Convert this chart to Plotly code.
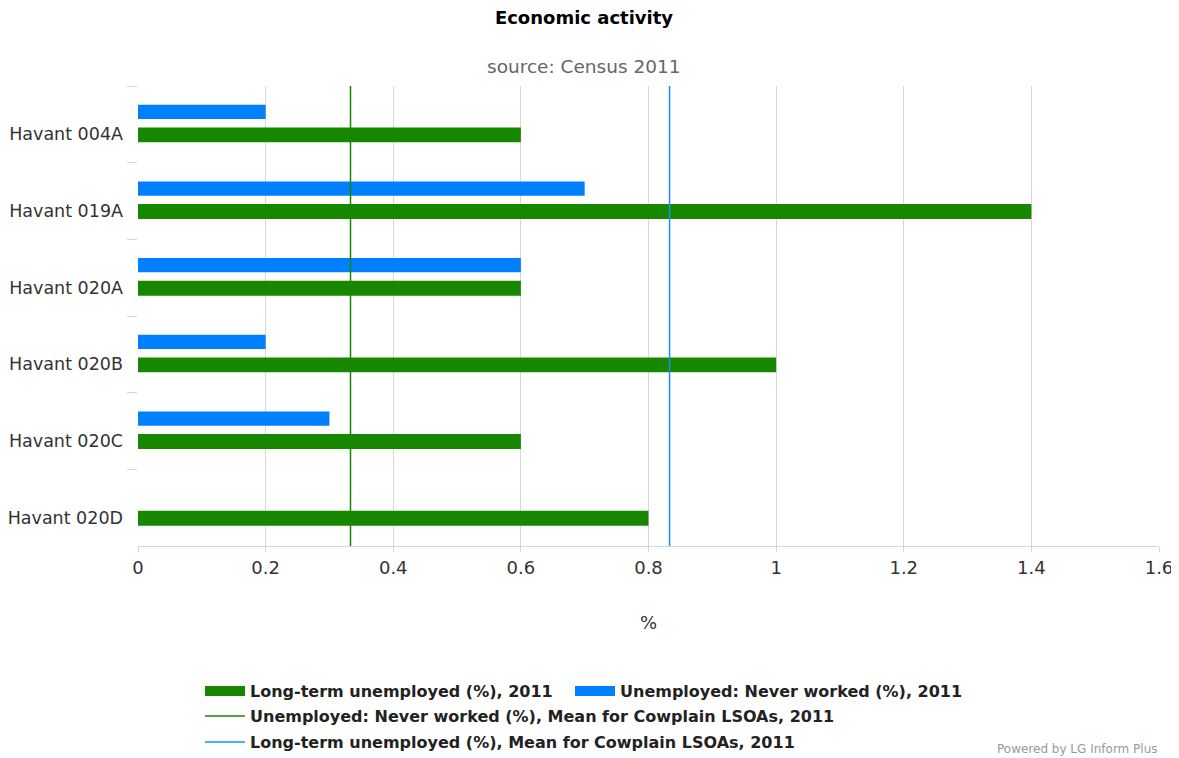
import plotly.graph_objects as go

categories = ["Havant 004A", "Havant 019A", "Havant 020A", "Havant 020B", "Havant 020C", "Havant 020D"]
long_term = [0.6, 1.4, 0.6, 1.0, 0.6, 0.8]
never_worked = [0.2, 0.7, 0.6, 0.2, 0.3, 0.0]
mean_never_worked = 0.333
mean_long_term = 0.833
x_ticks = [0, 0.2, 0.4, 0.6, 0.8, 1, 1.2, 1.4, 1.6]

NAME_LT = "Long-term unemployed (%), 2011"
NAME_NW = "Unemployed: Never worked (%), 2011"
NAME_NW_MEAN = "Unemployed: Never worked (%), Mean for Cowplain LSOAs, 2011"
NAME_LT_MEAN = "Long-term unemployed (%), Mean for Cowplain LSOAs, 2011"

GREEN = "#188700"
BLUE = "#0080ff"
FONT = "DejaVu Sans"
OFF = 8  # page body margin
W, H = 1171, 750
L, R, T, B = 130, 20, 78, 212
PW, PH = W - L - R, H - T - B


def px_x(p):
    return (p - OFF - L) / PW


def px_y(p):
    return (H - B - (p - OFF)) / PH


def cont_x(p):
    return (p - OFF) / W


def cont_y(p):
    return 1 - (p - OFF) / H


fig = go.Figure()
fig.add_trace(go.Bar(
    y=categories, x=long_term, orientation="h", name=NAME_LT, showlegend=False,
    marker=dict(color=GREEN, line=dict(width=0)), offset=0.04, width=0.195,
))
fig.add_trace(go.Bar(
    y=categories, x=never_worked, orientation="h", name=NAME_NW, showlegend=False,
    marker=dict(color=BLUE, line=dict(width=0)), offset=-0.255, width=0.185,
))
# legend proxies with wide rectangular swatches
fig.add_trace(go.Scatter(x=[None], y=[None], mode="lines", name=NAME_LT,
                         line=dict(color=GREEN, width=20), legend="legend", hoverinfo="skip"))
fig.add_trace(go.Scatter(x=[None], y=[None], mode="lines", name=NAME_NW,
                         line=dict(color=BLUE, width=20), legend="legend4", hoverinfo="skip"))

fig.add_shape(type="line", xref="x", yref="paper", x0=mean_never_worked, x1=mean_never_worked,
              y0=0, y1=1, line=dict(color=GREEN, width=1.5), layer="above",
              showlegend=True, name=NAME_NW_MEAN, legend="legend2")
fig.add_shape(type="line", xref="x", yref="paper", x0=mean_long_term, x1=mean_long_term,
              y0=0, y1=1, line=dict(color="#1a8cff", width=1.5), layer="above",
              showlegend=True, name=NAME_LT_MEAN, legend="legend3")

legend_common = dict(orientation="h", xref="container", yref="container", xanchor="left",
                     yanchor="middle", font=dict(family=FONT, size=16, color="#222", weight="bold"),
                     bgcolor="rgba(0,0,0,0)", itemwidth=40)

fig.update_layout(
    width=W, height=H,
    margin=dict(l=L, r=R, t=T, b=B),
    paper_bgcolor="white", plot_bgcolor="white",
    barmode="overlay",
    font=dict(family=FONT, size=18, color="#333"),
    title=dict(text="<b>Economic activity</b>", x=cont_x(584), xanchor="center", xref="container",
               yref="container", y=cont_y(18), yanchor="middle",
               font=dict(family=FONT, size=18, color="#000")),
    xaxis=dict(range=[0, 1.6], tickvals=x_ticks, ticktext=[str(v) for v in x_ticks],
               showgrid=True, gridcolor="#d8d8d8", gridwidth=1, zeroline=False,
               showline=True, linecolor="#ccd6eb", linewidth=1,
               ticks="outside", ticklen=5, tickcolor="#ccd6eb", automargin=False,
               tickfont=dict(family=FONT, size=18, color="#333"),
               title=dict(text="%", standoff=39, font=dict(family=FONT, size=18, color="#333"))),
    yaxis=dict(type="category", categoryorder="array", categoryarray=categories,
               range=[5.5, -0.5], showgrid=False, zeroline=False, showline=False,
               tickson="boundaries", ticks="outside", ticklen=10, tickcolor="#ccd6eb",
               ticklabelshift=-10, ticklabelstandoff=14, automargin=False,
               tickfont=dict(family=FONT, size=17.5, color="#333")),
    legend=dict(x=cont_x(200), y=cont_y(691), **legend_common),
    legend4=dict(x=cont_x(570), y=cont_y(691), **legend_common),
    legend2=dict(x=cont_x(200), y=cont_y(716), **legend_common),
    legend3=dict(x=cont_x(200), y=cont_y(742), **legend_common),
    annotations=[
        dict(text="Powered by LG Inform Plus", xref="paper", yref="paper", x=px_x(1160),
             y=px_y(749), xanchor="right", yanchor="middle", showarrow=False,
             font=dict(family=FONT, size=12, color="#999")),
        dict(text="source: Census 2011", xref="paper", yref="paper", x=px_x(584),
             y=px_y(66), xanchor="center", yanchor="middle", showarrow=False,
             font=dict(family=FONT, size=18.5, color="#666")),
    ],
)

fig.write_html("out.html")
